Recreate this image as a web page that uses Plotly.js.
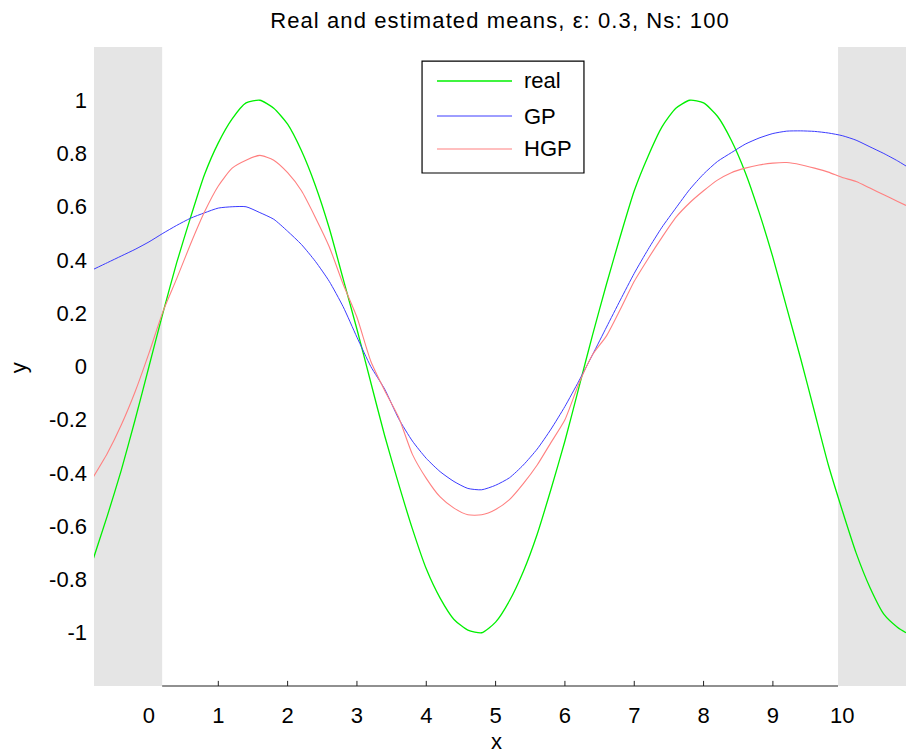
<!DOCTYPE html>
<html>
<head>
<meta charset="utf-8">
<script src="https://cdn.plot.ly/plotly-3.0.1.min.js"></script>
<style>html,body{margin:0;padding:0;background:#fff;}#chart{width:911px;height:755px;}
#chart .gtitle{letter-spacing:1.1px;}</style>
</head>
<body>
<div id="chart"></div>
<script>
// ---- data ----
const xs = [-0.8,-0.6,-0.4,-0.2,0,0.2,0.4,0.6,0.8,1.0,1.2,1.4,1.6,1.8,2.0,2.2,2.4,2.6,2.8,3.0,
  3.2,3.4,3.6,3.8,4.0,4.2,4.4,4.6,4.8,5.0,5.2,5.4,5.6,5.8,6.0,6.2,6.4,6.6,6.8,7.0,
  7.2,7.4,7.6,7.8,8.0,8.2,8.4,8.6,8.8,9.0,9.2,9.4,9.6,9.8,10.0,10.2,10.4,10.6,10.8,10.92];
const realY = [-0.72,-0.56,-0.39,-0.20,0.00,0.20,0.39,0.56,0.72,0.84,0.93,0.99,1.00,0.97,0.91,0.81,0.68,0.52,0.33,0.14,
  -0.06,-0.26,-0.44,-0.61,-0.76,-0.87,-0.95,-0.99,-1.00,-0.96,-0.88,-0.77,-0.63,-0.46,-0.28,-0.08,0.12,0.31,0.49,0.66,
  0.79,0.90,0.97,1.00,0.99,0.94,0.85,0.73,0.58,0.41,0.22,0.03,-0.17,-0.37,-0.54,-0.70,-0.83,-0.93,-0.98,-1.00];
const gpY = [0.365,0.39,0.415,0.44,0.468,0.50,0.53,0.557,0.577,0.595,0.60,0.60,0.578,0.553,0.508,0.458,0.395,0.32,0.225,0.11,
  0.0,-0.085,-0.195,-0.28,-0.345,-0.395,-0.432,-0.458,-0.463,-0.446,-0.418,-0.37,-0.31,-0.235,-0.15,-0.055,0.045,0.148,0.25,0.35,
  0.44,0.523,0.595,0.665,0.723,0.77,0.803,0.835,0.858,0.875,0.884,0.885,0.883,0.877,0.867,0.85,0.825,0.80,0.772,0.753];
const hgpY = [-0.414,-0.326,-0.22,-0.095,0.05,0.205,0.33,0.46,0.58,0.678,0.745,0.775,0.793,0.775,0.728,0.66,0.56,0.45,0.31,0.185,
  0.02,-0.09,-0.19,-0.33,-0.42,-0.49,-0.532,-0.557,-0.557,-0.537,-0.5,-0.44,-0.37,-0.285,-0.2,-0.065,0.045,0.115,0.215,0.32,
  0.405,0.485,0.56,0.615,0.66,0.70,0.728,0.745,0.757,0.764,0.766,0.758,0.745,0.73,0.71,0.695,0.67,0.645,0.62,0.605];
const seriesNames = ['real','GP','HGP'];
const xTickVals = [0,1,2,3,4,5,6,7,8,9,10];
const xTickText = ['0','1','2','3','4','5','6','7','8','9','10'];
const yTickVals = [-1,-0.8,-0.6,-0.4,-0.2,0,0.2,0.4,0.6,0.8,1];
const yTickText = ['-1','-0.8','-0.6','-0.4','-0.2','0','0.2','0.4','0.6','0.8','1'];
const shadeLeft = [-0.793, 0.19];
const shadeRight = [9.94, 10.92];
const titleText = 'Real and estimated means, \u03b5: 0.3, Ns: 100';

// ---- styling ----
const FONT = 'Liberation Sans, Arial, sans-serif';
const colors = ['rgb(0,240,0)','rgb(60,60,255)','rgb(255,128,128)'];
const widths = [1.3,1,1.1];
const ys = [realY, gpY, hgpY];
const xRange = [shadeLeft[0], shadeRight[1]];
const yRange = [-1.2, 1.2];

const traces = ys.map((y,i)=>({
  x: xs, y: y, type:'scatter', mode:'lines', name: seriesNames[i],
  line:{color:colors[i], width:widths[i], shape:'spline', smoothing:0.6}, showlegend:false, hoverinfo:'skip'
}));

const shapes = [];
// grey bands
[shadeLeft, shadeRight].forEach(b=>shapes.push({type:'rect', layer:'below', xref:'x', yref:'paper',
  x0:b[0], x1:b[1], y0:0, y1:1, fillcolor:'rgb(229,229,229)', line:{width:0}}));
// x axis line between bands
shapes.push({type:'line', layer:'below', xref:'x', yref:'paper', x0:shadeLeft[1], x1:shadeRight[0], y0:0, y1:0,
  line:{color:'#222', width:1.2}});
// tick marks not hidden by bands
xTickVals.filter(v=>v>shadeLeft[1] && v<shadeRight[0]).forEach(v=>shapes.push({type:'line', layer:'below',
  xref:'x', yref:'paper', x0:v, x1:v, y0:0, y1:0.008, line:{color:'#222', width:1}}));

// legend box (drawn manually to match the reference look)
const lg = {x0:0.404, x1:0.6034, y0:0.8028, y1:0.978, lx0:0.4224, lx1:0.5148, tx:0.527, rows:[0.9468,0.892,0.8404]};
shapes.push({type:'rect', xref:'paper', yref:'paper', x0:lg.x0, x1:lg.x1, y0:lg.y0, y1:lg.y1,
  fillcolor:'#fff', line:{color:'#000', width:1.2}, layer:'above'});
const annotations = [];
seriesNames.forEach((n,i)=>{
  shapes.push({type:'line', xref:'paper', yref:'paper', x0:lg.lx0, x1:lg.lx1, y0:lg.rows[i], y1:lg.rows[i],
    line:{color:colors[i], width:widths[i]}, layer:'above'});
  annotations.push({xref:'paper', yref:'paper', x:lg.tx, y:lg.rows[i], xanchor:'left', yanchor:'middle',
    text:n, showarrow:false, font:{family:FONT, size:22, color:'#000'}});
});
// axis titles
annotations.push({xref:'paper', yref:'paper', x:0.496, y:-0.0876, xanchor:'center', yanchor:'middle',
  text:'x', showarrow:false, font:{family:FONT, size:22, color:'#000'}});
annotations.push({xref:'paper', yref:'paper', x:-0.0936, y:0.499, xanchor:'center', yanchor:'middle',
  text:'y', textangle:-90, showarrow:false, font:{family:FONT, size:22, color:'#000'}});

const layout = {
  width:911, height:755,
  margin:{l:94, r:5, t:47, b:69},
  paper_bgcolor:'#fff', plot_bgcolor:'#fff',
  font:{family:FONT, size:22, color:'#000'},
  title:{text:titleText, x:0.5, xref:'paper', y:1-20/755, yref:'container', yanchor:'middle', xanchor:'center',
    font:{family:FONT, size:22, color:'#000'}},
  xaxis:{range:xRange, tickmode:'array', tickvals:xTickVals, ticktext:xTickText, ticks:'', showgrid:false,
    zeroline:false, showline:false, ticklabelstandoff:14, tickfont:{family:FONT, size:22, color:'#000'}},
  yaxis:{range:yRange, tickmode:'array', tickvals:yTickVals, ticktext:yTickText, ticks:'', showgrid:false,
    zeroline:false, showline:false, ticklabelstandoff:6, tickfont:{family:FONT, size:22, color:'#000'}},
  shapes:shapes, annotations:annotations, showlegend:false
};
Plotly.newPlot('chart', traces, layout, {displayModeBar:false, staticPlot:true});
</script>
</body>
</html>
